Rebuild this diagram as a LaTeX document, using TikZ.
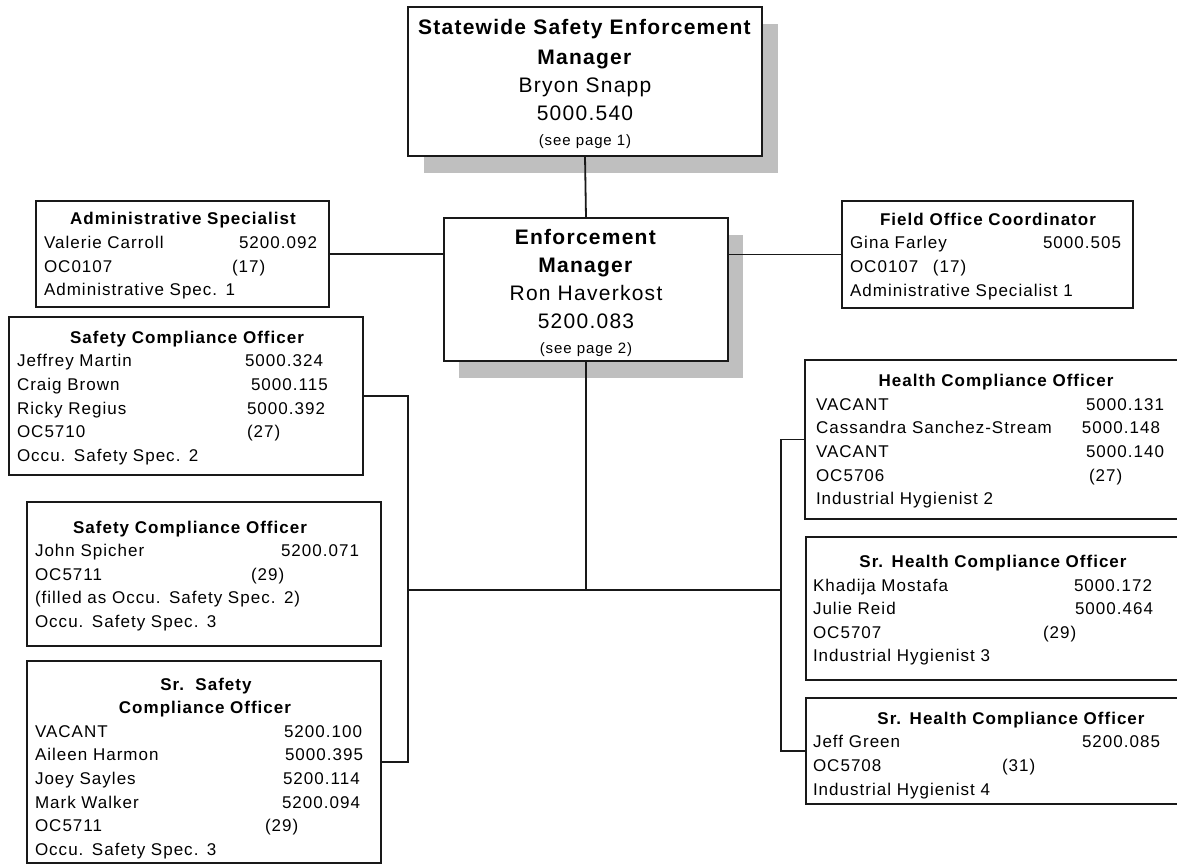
\documentclass[tikz,border=0pt]{standalone}
\usepackage{fontspec}
\setmainfont{Liberation Sans}[LetterSpace=6]
\newcommand{\rw}[3]{\makebox[#2pt][l]{#1}#3}
\newcommand{\ttl}[2]{\hspace*{#1pt}\makebox[0pt]{\bfseries #2}}
\newcommand{\smallnote}[1]{{\fontsize{15}{18}\selectfont #1}}
\newcommand{\fs}[1][18]{\rule{0pt}{#1pt}}
\newcommand{\ls}{\rule[-5.6pt]{0pt}{0pt}}
\begin{document}
\begin{tikzpicture}[x=1pt,y=-1pt,
  every node/.style={inner sep=0pt, outer sep=0pt},
  orgbox/.style={draw=black!90, line width=1.8pt, fill=white, rectangle, anchor=north west,
    align=left, inner xsep=8pt, inner ysep=0pt, font=\fontsize{17}{23.6}\selectfont},
  mgrbox/.style={draw=black!90, line width=1.8pt, fill=white, rectangle, anchor=north west,
    align=center, inner xsep=4pt, inner ysep=0pt, font=\fontsize{21}{28}\selectfont},
  shadowfill/.style={fill=black!25},
  link/.style={line width=1.8pt, draw=black!90}]
\useasboundingbox (0,0) rectangle (1177,865);
\fill[white] (0,0) rectangle (1177,865);
\clip (0,0) rectangle (1177,865);

% shadows of the manager boxes
\fill[shadowfill] (424,24) rectangle (778,173);
\fill[shadowfill] (459,235) rectangle (743,378);

% managers
\node[mgrbox, minimum width=354pt, minimum height=149pt] (sse) at (408,7)
  {\fs[19.4]\textbf{Statewide Safety Enforcement}\\[2pt]\textbf{Manager}\\Bryon Snapp\\5000.540\\[-3pt]\smallnote{(see page 1)}};
\node[mgrbox, minimum width=284pt, minimum height=143pt] (em) at (444,218)
  {\fs[21.4]\textbf{Enforcement}\\\textbf{Manager}\\Ron Haverkost\\5200.083\\[-3pt]\smallnote{(see page 2)}};

% staff
\node[orgbox, text width=277pt, minimum height=106pt] (asp) at (36,201)
  {\fs\ttl{139}{Administrative Specialist}\\
   \rw{Valerie Carroll}{195}{5200.092}\\
   \rw{OC0107}{188}{(17)}\\
   Administrative Spec. 1\ls};
\node[orgbox, text width=275pt, minimum height=107pt] (foc) at (842,201)
  {\fs\ttl{138}{Field Office Coordinator}\\
   \rw{Gina Farley}{193}{5000.505}\\
   \rw{OC0107}{83}{(17)}\\
   Administrative Specialist 1\ls};

% left column
\node[orgbox, text width=338pt, minimum height=158pt] (sco1) at (9,317)
  {\fs\ttl{170}{Safety Compliance Officer}\\
   \rw{Jeffrey Martin}{228}{5000.324}\\
   \rw{Craig Brown}{234}{5000.115}\\
   \rw{Ricky Regius}{230}{5000.392}\\
   \rw{OC5710}{230}{(27)}\\
   Occu. Safety Spec. 2\ls};
\node[orgbox, text width=338pt, minimum height=144pt] (sco2) at (27,502)
  {\fs\ttl{155}{Safety Compliance Officer}\\
   \rw{John Spicher}{246}{5200.071}\\
   \rw{OC5711}{216}{(29)}\\
   (filled as Occu. Safety Spec. 2)\\
   Occu. Safety Spec. 3\ls};
\node[orgbox, text width=338pt, minimum height=202pt] (ssco) at (27,661)
  {\fs[27]\ttl{171}{Sr.\ \ Safety}\\
   \ttl{170}{Compliance Officer}\\
   \rw{VACANT}{249}{5200.100}\\
   \rw{Aileen Harmon}{250}{5000.395}\\
   \rw{Joey Sayles}{248}{5200.114}\\
   \rw{Mark Walker}{247}{5200.094}\\
   \rw{OC5711}{230}{(29)}\\
   Occu. Safety Spec. 3\ls};

% right column
\node[orgbox, inner xsep=11pt, text width=358pt, minimum height=159pt] (hco) at (805,360)
  {\fs\ttl{180}{Health Compliance Officer}\\
   \rw{VACANT}{270}{5000.131}\\
   \rw{Cassandra Sanchez-Stream}{266}{5000.148}\\
   \rw{VACANT}{270}{5000.140}\\
   \rw{OC5706}{273}{(27)}\\
   Industrial Hygienist 2\ls};
\node[orgbox, inner xsep=7pt, text width=366pt, minimum height=143pt] (shco1) at (806,537)
  {\fs\ttl{180}{Sr. Health Compliance Officer}\\
   \rw{Khadija Mostafa}{261}{5000.172}\\
   \rw{Julie Reid}{262}{5000.464}\\
   \rw{OC5707}{230}{(29)}\\
   Industrial Hygienist 3\ls};
\node[orgbox, inner xsep=7pt, text width=366pt, minimum height=106pt] (shco2) at (806,698)
  {\fs[23]\ttl{198}{Sr. Health Compliance Officer}\\
   \rw{Jeff Green}{269}{5200.085}\\
   \rw{OC5708}{189}{(31)}\\
   Industrial Hygienist 4\ls};

% connectors
\coordinate (L) at (408,590);
\coordinate (R) at (781,590);
\draw[link] (sse.south) -- (em.north);
\draw[link] (asp.east) -- (asp.east -| em.west);
\draw[link] (foc.west) -- (foc.west -| em.east);
\draw[link] (em.south) -- (em.south |- L);
\draw[link] (L) -- (R);
\draw[link] (sco1.east) -| (L) |- (ssco.east);
\draw[link] (hco.west) -| (R) |- (shco2.west);
\end{tikzpicture}
\end{document}
